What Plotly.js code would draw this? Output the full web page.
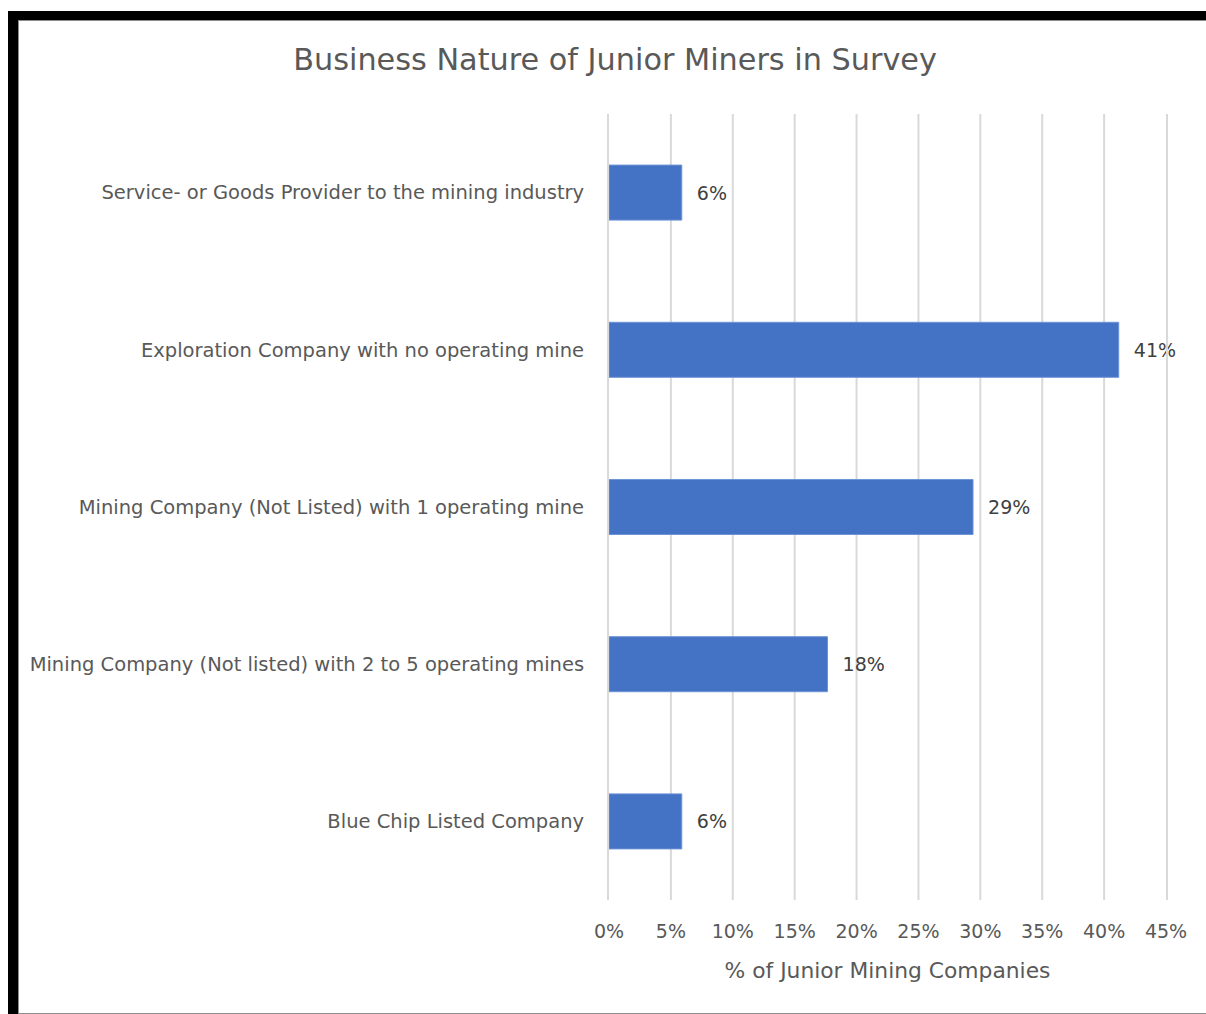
<!DOCTYPE html>
<html>
<head>
<meta charset="utf-8">
<script src="https://cdn.plot.ly/plotly-3.0.1.min.js"></script>
<style>
html,body{margin:0;padding:0;width:1206px;height:1014px;overflow:hidden;background:#fff;}
#chart{position:absolute;left:0;top:0;width:1206px;height:1014px;}
#frame{position:absolute;left:8px;top:11px;width:1300px;height:1000px;border-left:10px solid #000;border-top:9px solid #000;pointer-events:none;}
#inner{position:absolute;left:18px;top:20px;width:1300px;height:992px;border-left:1px solid #8c8c8c;border-top:1px solid #8c8c8c;border-bottom:1px solid #8c8c8c;pointer-events:none;}
</style>
</head>
<body>
<div id="chart"></div>
<div id="frame"></div>
<div id="inner"></div>
<script>
var categories = [
  "Service- or Goods Provider to the mining industry",
  "Exploration Company with no operating mine",
  "Mining Company (Not Listed) with 1 operating mine",
  "Mining Company (Not listed) with 2 to 5 operating mines",
  "Blue Chip Listed Company"
];
var shares = [0.0588, 0.4118, 0.2941, 0.1765, 0.0588];
var xTickVals = [0, 0.05, 0.10, 0.15, 0.20, 0.25, 0.30, 0.35, 0.40, 0.45];
var xTickText = ["0%", "5%", "10%", "15%", "20%", "25%", "30%", "35%", "40%", "45%"];

var font = "'DejaVu Sans', sans-serif";
var grey = "#595959";
var xRange = [0, 0.45];

var trace = {
  type: "bar",
  orientation: "h",
  x: shares,
  y: categories,
  marker: {color: "#4472c4", line: {color: "#6e93d6", width: 1}},
  texttemplate: "  %{x:.0%}",
  textposition: "outside",
  cliponaxis: false,
  textfont: {family: font, size: 19, color: "#404040"},
  hoverinfo: "skip"
};

// interior gridlines; the two edge lines are drawn by the y axis line (mirrored)
var gridShapes = xTickVals.filter(function (v) {
  return v > xRange[0] && v < xRange[1];
}).map(function (v) {
  return {type: "line", xref: "x", yref: "paper", x0: v, x1: v, y0: 0, y1: 1,
          layer: "below", line: {color: "#d9d9d9", width: 2}};
});

var layout = {
  width: 1206,
  height: 1014,
  paper_bgcolor: "#fff",
  plot_bgcolor: "#fff",
  margin: {l: 609, r: 40, t: 114, b: 114},
  bargap: 0.65,
  showlegend: false,
  shapes: gridShapes,
  title: {
    text: "Business Nature of Junior Miners in Survey",
    font: {family: font, size: 30.3, color: grey},
    x: 0.51, xanchor: "center",
    y: 0.941, yanchor: "middle"
  },
  xaxis: {
    range: xRange,
    tickvals: xTickVals,
    ticktext: xTickText,
    showgrid: false,
    zeroline: false,
    showline: false,
    ticks: "",
    ticklabelstandoff: 18,
    tickfont: {family: font, size: 19, color: grey},
    title: {text: "% of Junior Mining Companies", font: {family: font, size: 21.8, color: grey}, standoff: 21}
  },
  yaxis: {
    autorange: "reversed",
    showgrid: false,
    zeroline: false,
    showline: true,
    mirror: true,
    linecolor: "#d9d9d9",
    linewidth: 2,
    ticks: "",
    ticklabelstandoff: 19,
    tickfont: {family: font, size: 19.5, color: grey}
  }
};

Plotly.newPlot("chart", [trace], layout, {displayModeBar: false, staticPlot: true});
</script>
</body>
</html>
